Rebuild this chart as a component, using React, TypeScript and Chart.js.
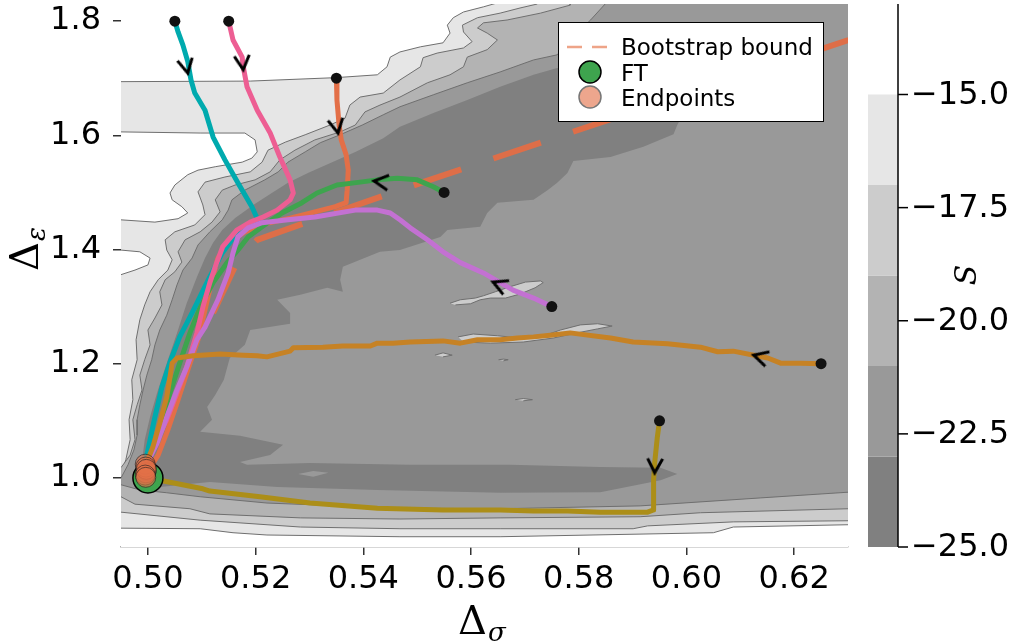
import React, { useEffect, useRef } from 'react';
import { Chart, registerables } from 'chart.js';

Chart.register(...registerables);

type Pt = [number, number];

// ---------- axes ----------
const X_MIN = 0.495;
const X_MAX = 0.63;
const Y_MIN = 0.879;
const Y_MAX = 1.83;
const X_TICKS = [0.5, 0.52, 0.54, 0.56, 0.58, 0.6, 0.62];
const Y_TICKS = [1.0, 1.2, 1.4, 1.6, 1.8];

// ---------- colorbar ----------
const CB_LEVELS = [-25, -23, -21, -19, -17, -15];
const CB_COLORS = ['#808080', '#999999', '#b3b3b3', '#cccccc', '#e6e6e6'];
const CB_TICKS = [-25, -22.5, -20, -17.5, -15];
const CB_MIN = -25;
const CB_MAX = -13;
const CB_TITLE = 'S';

// ---------- contour regions (S below level), data units ----------
const REGION_LE15: Pt[] = [[0.4911, 1.872], [0.4911, 0.839], [0.6342, 0.839], [0.6342, 1.872]];

const WHITE_TOP: Pt[] = [[0.4911, 1.872], [0.4911, 1.694], [0.495, 1.694], [0.519, 1.695], [0.5349, 1.701], [0.5426, 1.706], [0.5444, 1.72], [0.545, 1.737], [0.5468, 1.746], [0.5506, 1.755], [0.5548, 1.762], [0.5561, 1.779], [0.5556, 1.793], [0.5567, 1.806], [0.5586, 1.816], [0.5623, 1.825], [0.5649, 1.832], [0.5664, 1.872]];
const WHITE_TONGUE: Pt[] = [[0.4911, 1.606], [0.495, 1.606], [0.5097, 1.604], [0.518, 1.604], [0.5199, 1.592], [0.5203, 1.571], [0.5193, 1.56], [0.5175, 1.553], [0.5125, 1.545], [0.5093, 1.539], [0.5074, 1.531], [0.505, 1.513], [0.5041, 1.499], [0.5045, 1.487], [0.5063, 1.475], [0.5074, 1.464], [0.5056, 1.454], [0.5013, 1.448], [0.495, 1.452], [0.4911, 1.452]];
const WHITE_BLOB: Pt[] = [[0.4911, 1.399], [0.495, 1.399], [0.4985, 1.396], [0.5004, 1.385], [0.5, 1.373], [0.4976, 1.364], [0.495, 1.356], [0.4911, 1.356]];
const WHITE_BOTTOM: Pt[] = [[0.4911, 0.912], [0.495, 0.912], [0.5097, 0.911], [0.5158, 0.904], [0.5221, 0.9], [0.5468, 0.897], [0.5654, 0.897], [0.605, 0.904], [0.6087, 0.914], [0.6301, 0.918], [0.6342, 0.918], [0.6342, 0.839], [0.4911, 0.839]];

const REGION_LE17: Pt[] = [[0.5723, 1.872], [0.5723, 1.83], [0.5691, 1.823], [0.5654, 1.814], [0.5612, 1.806], [0.5584, 1.793], [0.5586, 1.781], [0.5602, 1.764], [0.5586, 1.753], [0.5537, 1.744], [0.5511, 1.736], [0.5506, 1.72], [0.5468, 1.697], [0.5437, 1.674], [0.5394, 1.667], [0.5375, 1.653], [0.5366, 1.63], [0.5338, 1.618], [0.5292, 1.601], [0.5255, 1.588], [0.5223, 1.574], [0.5212, 1.553], [0.519, 1.536], [0.5143, 1.527], [0.5106, 1.518], [0.5093, 1.501], [0.5102, 1.478], [0.5106, 1.461], [0.5087, 1.443], [0.505, 1.431], [0.5032, 1.417], [0.5035, 1.399], [0.5045, 1.382], [0.5037, 1.364], [0.5019, 1.347], [0.5004, 1.326], [0.4994, 1.303], [0.4985, 1.277], [0.4978, 1.242], [0.498, 1.207], [0.497, 1.172], [0.4972, 1.137], [0.4965, 1.102], [0.4967, 1.067], [0.4959, 1.032], [0.495, 1.005], [0.4911, 0.996], [0.4911, 0.94], [0.495, 0.94], [0.5097, 0.926], [0.5283, 0.914], [0.5468, 0.911], [0.5654, 0.911], [0.5901, 0.911], [0.5928, 0.916], [0.6087, 0.923], [0.6301, 0.925], [0.6342, 0.925], [0.6342, 1.872]];

const REGION_LE19: Pt[] = [[0.5784, 1.872], [0.5784, 1.828], [0.5729, 1.814], [0.5667, 1.802], [0.5623, 1.797], [0.5612, 1.788], [0.563, 1.779], [0.5649, 1.767], [0.563, 1.75], [0.5593, 1.737], [0.5586, 1.72], [0.5561, 1.706], [0.5519, 1.692], [0.5468, 1.667], [0.5431, 1.653], [0.5403, 1.641], [0.5385, 1.618], [0.5357, 1.606], [0.531, 1.592], [0.5273, 1.574], [0.5245, 1.557], [0.5227, 1.536], [0.5199, 1.522], [0.5162, 1.513], [0.5138, 1.504], [0.5125, 1.487], [0.5134, 1.466], [0.5119, 1.448], [0.5097, 1.431], [0.5069, 1.417], [0.5056, 1.396], [0.5063, 1.378], [0.505, 1.361], [0.5032, 1.347], [0.5022, 1.326], [0.5026, 1.303], [0.5013, 1.28], [0.5, 1.259], [0.5004, 1.233], [0.4994, 1.207], [0.4985, 1.18], [0.4989, 1.154], [0.498, 1.128], [0.4972, 1.102], [0.4976, 1.067], [0.4967, 1.04], [0.495, 1.018], [0.4911, 1.014], [0.4911, 0.967], [0.495, 0.967], [0.4976, 0.954], [0.5078, 0.946], [0.5115, 0.937], [0.5283, 0.93], [0.5468, 0.928], [0.5654, 0.93], [0.5914, 0.932], [0.6026, 0.939], [0.6301, 0.946], [0.6342, 0.946], [0.6342, 1.872]];

const REGION_LE21: Pt[] = [[0.5849, 1.872], [0.5849, 1.83], [0.5822, 1.802], [0.5784, 1.767], [0.576, 1.741], [0.5716, 1.732], [0.5654, 1.711], [0.5593, 1.692], [0.553, 1.671], [0.5468, 1.65], [0.5437, 1.636], [0.5398, 1.618], [0.5357, 1.601], [0.532, 1.587], [0.5292, 1.571], [0.526, 1.553], [0.5242, 1.536], [0.5217, 1.522], [0.518, 1.504], [0.5156, 1.487], [0.5149, 1.469], [0.5138, 1.452], [0.5115, 1.431], [0.5093, 1.408], [0.5082, 1.385], [0.5065, 1.364], [0.5054, 1.338], [0.5045, 1.312], [0.5035, 1.285], [0.5022, 1.259], [0.5013, 1.233], [0.5007, 1.207], [0.4998, 1.18], [0.4991, 1.154], [0.4985, 1.128], [0.498, 1.102], [0.498, 1.075], [0.4974, 1.049], [0.4963, 1.023], [0.495, 1.0], [0.4911, 0.996], [0.4911, 0.988], [0.495, 0.988], [0.4985, 0.979], [0.5035, 0.974], [0.5097, 0.967], [0.5221, 0.956], [0.5468, 0.947], [0.5654, 0.946], [0.5914, 0.951], [0.6138, 0.965], [0.6301, 0.975], [0.6342, 0.975], [0.6342, 1.872]];

const ISLANDS_LE21: Pt[][] = [
  [[0.5561, 1.306], [0.558, 1.312], [0.5608, 1.315], [0.5623, 1.319], [0.5645, 1.326], [0.5673, 1.335], [0.5701, 1.343], [0.5729, 1.345], [0.5734, 1.342], [0.5719, 1.333], [0.5691, 1.322], [0.5664, 1.315], [0.5636, 1.315], [0.5617, 1.312], [0.5599, 1.305], [0.5571, 1.303]],
  [[0.5576, 1.247], [0.5604, 1.252], [0.5649, 1.249], [0.5691, 1.245], [0.5729, 1.247], [0.5766, 1.259], [0.5803, 1.268], [0.5835, 1.27], [0.5862, 1.266], [0.5835, 1.261], [0.5797, 1.254], [0.5753, 1.245], [0.5697, 1.238], [0.5636, 1.236], [0.5586, 1.238]],
  [[0.5533, 1.215], [0.5548, 1.219], [0.5565, 1.215], [0.5548, 1.212]],
  [[0.5651, 1.207], [0.566, 1.208], [0.5669, 1.207], [0.566, 1.205]],
  [[0.5682, 1.137], [0.5697, 1.139], [0.5714, 1.137], [0.5697, 1.135]],
];

const REGION_LE23: Pt[] = [[0.4985, 0.982], [0.4987, 1.014], [0.4991, 1.044], [0.4994, 1.067], [0.5004, 1.107], [0.5017, 1.149], [0.5035, 1.201], [0.5054, 1.254], [0.5072, 1.306], [0.5091, 1.352], [0.5106, 1.385], [0.5121, 1.412], [0.5138, 1.434], [0.5162, 1.455], [0.5199, 1.48], [0.523, 1.499], [0.526, 1.517], [0.5297, 1.534], [0.5342, 1.553], [0.5385, 1.571], [0.5437, 1.595], [0.5468, 1.615], [0.553, 1.639], [0.5593, 1.662], [0.5654, 1.685], [0.5716, 1.706], [0.576, 1.718], [0.5822, 1.711], [0.5896, 1.688], [0.5961, 1.662], [0.5993, 1.636], [0.5983, 1.618], [0.5976, 1.602], [0.592, 1.58], [0.5859, 1.562], [0.579, 1.555], [0.5779, 1.534], [0.576, 1.517], [0.5742, 1.504], [0.5716, 1.487], [0.5649, 1.482], [0.563, 1.464], [0.5617, 1.44], [0.5556, 1.434], [0.5543, 1.422], [0.5468, 1.399], [0.5431, 1.396], [0.5362, 1.37], [0.5357, 1.347], [0.5362, 1.326], [0.5333, 1.333], [0.5283, 1.321], [0.524, 1.312], [0.5264, 1.289], [0.5264, 1.27], [0.519, 1.259], [0.518, 1.233], [0.5152, 1.21], [0.5141, 1.172], [0.5125, 1.145], [0.511, 1.124], [0.5119, 1.102], [0.5097, 1.081], [0.5171, 1.074], [0.5251, 1.058], [0.5227, 1.04], [0.5171, 1.028], [0.5184, 1.023], [0.5301, 1.026], [0.5487, 1.023], [0.5673, 1.023], [0.584, 1.019], [0.5952, 1.018], [0.5983, 1.007], [0.5952, 0.996], [0.584, 0.975], [0.5654, 0.974], [0.5426, 0.979], [0.524, 0.984], [0.5115, 0.993], [0.5022, 0.984], [0.4994, 0.979]];

const ISLANDS_LE23: Pt[][] = [[[0.5279, 1.007], [0.5307, 1.012], [0.5335, 1.009], [0.5307, 1.002]]];

// ---------- trajectories ----------
const TRAJ_ORANGERED: Pt[] = [[0.535, 1.7], [0.5351, 1.662], [0.5355, 1.618], [0.5359, 1.592], [0.5368, 1.566], [0.5372, 1.539], [0.537, 1.504], [0.5368, 1.482], [0.5348, 1.475], [0.531, 1.466], [0.5264, 1.455], [0.5217, 1.445], [0.518, 1.431], [0.5149, 1.412], [0.513, 1.385], [0.5119, 1.347], [0.5106, 1.294], [0.5093, 1.242], [0.5074, 1.189], [0.5056, 1.137], [0.5037, 1.084], [0.5019, 1.04], [0.5004, 1.018], [0.4997, 1.013]];
const TRAJ_GREEN: Pt[] = [[0.555, 1.5], [0.553, 1.51], [0.55, 1.522], [0.5463, 1.525], [0.5426, 1.522], [0.5394, 1.518], [0.5351, 1.513], [0.5314, 1.499], [0.5286, 1.482], [0.5249, 1.464], [0.5212, 1.44], [0.5186, 1.422], [0.5167, 1.399], [0.5147, 1.377], [0.5121, 1.342], [0.5097, 1.299], [0.5078, 1.254], [0.5059, 1.201], [0.5041, 1.149], [0.5022, 1.089], [0.5004, 1.044], [0.4996, 1.009]];
const TRAJ_TEAL: Pt[] = [[0.505, 1.8], [0.5056, 1.781], [0.5065, 1.758], [0.5074, 1.729], [0.508, 1.697], [0.5087, 1.674], [0.5106, 1.644], [0.5121, 1.597], [0.5143, 1.557], [0.5167, 1.517], [0.5193, 1.475], [0.5204, 1.452], [0.518, 1.434], [0.5156, 1.417], [0.5138, 1.394], [0.5112, 1.347], [0.5082, 1.289], [0.5059, 1.247], [0.5041, 1.203], [0.5026, 1.159], [0.5013, 1.107], [0.5004, 1.067], [0.4998, 1.04], [0.4995, 1.024]];
const TRAJ_PINK: Pt[] = [[0.515, 1.8], [0.5158, 1.767], [0.5175, 1.737], [0.5177, 1.72], [0.5184, 1.685], [0.5203, 1.644], [0.5227, 1.604], [0.5245, 1.562], [0.5264, 1.522], [0.527, 1.499], [0.5264, 1.487], [0.524, 1.469], [0.5214, 1.457], [0.519, 1.448], [0.5165, 1.434], [0.5139, 1.405], [0.5125, 1.37], [0.5115, 1.342], [0.5102, 1.299], [0.5091, 1.254], [0.5072, 1.194], [0.5054, 1.149], [0.5035, 1.102], [0.5017, 1.067], [0.5004, 1.037], [0.4996, 1.019]];
const TRAJ_PURPLE: Pt[] = [[0.575, 1.3], [0.5716, 1.315], [0.5678, 1.329], [0.5654, 1.342], [0.5623, 1.359], [0.558, 1.377], [0.5548, 1.396], [0.5519, 1.417], [0.5487, 1.438], [0.5468, 1.452], [0.545, 1.464], [0.5426, 1.469], [0.5385, 1.469], [0.531, 1.457], [0.526, 1.452], [0.5212, 1.447], [0.5186, 1.438], [0.5167, 1.422], [0.5158, 1.394], [0.5149, 1.359], [0.513, 1.312], [0.5106, 1.264], [0.5091, 1.242], [0.5072, 1.194], [0.5054, 1.154], [0.5035, 1.107], [0.5017, 1.061], [0.5004, 1.037], [0.4997, 1.015]];
const TRAJ_ORANGE: Pt[] = [[0.625, 1.2], [0.6212, 1.201], [0.6175, 1.201], [0.6151, 1.21], [0.6087, 1.222], [0.6058, 1.221], [0.6026, 1.229], [0.5965, 1.235], [0.5901, 1.238], [0.5859, 1.245], [0.5784, 1.254], [0.5747, 1.25], [0.5716, 1.247], [0.5686, 1.245], [0.5654, 1.242], [0.5612, 1.242], [0.558, 1.236], [0.5548, 1.24], [0.5487, 1.238], [0.5455, 1.236], [0.5426, 1.236], [0.5413, 1.231], [0.5362, 1.231], [0.5325, 1.229], [0.527, 1.228], [0.5264, 1.222], [0.5221, 1.212], [0.5203, 1.214], [0.5177, 1.215], [0.5134, 1.217], [0.5084, 1.214], [0.5054, 1.21], [0.5045, 1.201], [0.5041, 1.177], [0.5035, 1.142], [0.5022, 1.096], [0.5009, 1.054], [0.5, 1.032], [0.4995, 1.005]];
const TRAJ_OLIVE: Pt[] = [[0.595, 1.1], [0.5946, 1.072], [0.5941, 1.026], [0.5939, 0.996], [0.5939, 0.944], [0.5928, 0.94], [0.584, 0.94], [0.5779, 0.942], [0.5716, 0.942], [0.5654, 0.944], [0.5548, 0.944], [0.5426, 0.947], [0.5301, 0.956], [0.5208, 0.967], [0.5115, 0.977], [0.5102, 0.981], [0.5022, 0.996], [0.4996, 1.001]];

const TRAJECTORIES: Pt[][] = [TRAJ_ORANGERED, TRAJ_GREEN, TRAJ_TEAL, TRAJ_PINK, TRAJ_PURPLE, TRAJ_ORANGE, TRAJ_OLIVE];
const TRAJ_COLORS = ['#E36F47', '#3EA44E', '#00AAAE', '#ED5E93', '#C371D2', '#C68225', '#AC8E18'];

const BOOTSTRAP_BOUND: Pt[] = [[0.5121, 1.289], [0.5165, 1.377], [0.5203, 1.417], [0.5296, 1.448], [0.5511, 1.518], [0.576, 1.597], [0.6301, 1.767]];

const ARROW_POS: Pt[] = [[0.5074, 1.709], [0.5177, 1.715], [0.5353, 1.604], [0.542, 1.52], [0.5641, 1.343], [0.6125, 1.215], [0.5941, 1.009]];
const ARROW_ROT = [-12, -6, -11, 97, 113, 106, 2];

const FT_POINT: Pt[] = [[0.5, 1.0]];

const LEGEND_LABELS = ['Bootstrap bound', 'FT', 'Endpoints'];

const toXY = (a: Pt[]) => a.map(([x, y]) => ({ x, y }));

function makeChevron(): HTMLCanvasElement {
  const c = document.createElement('canvas');
  c.width = 44;
  c.height = 44;
  const g = c.getContext('2d')!;
  g.strokeStyle = '#000';
  g.lineWidth = 3;
  g.lineJoin = 'miter';
  g.lineCap = 'butt';
  const L = 16;
  const a = (28 * Math.PI) / 180;
  g.beginPath();
  g.moveTo(22 - L * Math.sin(a), 22 - L * Math.cos(a));
  g.lineTo(22, 22);
  g.lineTo(22 + L * Math.sin(a), 22 - L * Math.cos(a));
  g.stroke();
  return c;
}

function polygon(pts: Pt[], fillColor: string, stroke: boolean) {
  return {
    type: 'line',
    data: toXY(pts),
    fill: 'shape',
    backgroundColor: fillColor,
    borderColor: stroke ? '#6f6f6f' : 'rgba(0,0,0,0)',
    borderWidth: stroke ? 1 : 0,
    pointRadius: 0,
    pointHoverRadius: 0,
    tension: 0,
    clip: 0,
  };
}

const overlayPlugin = {
  id: 'overlay',
  afterDraw(chart: any) {
    const ctx = chart.ctx as CanvasRenderingContext2D;
    const cb = chart.scales.cb;
    const area = chart.chartArea;
    ctx.save();

    // colorbar
    const cbLeft = 868;
    const cbRight = 898;
    for (let i = 0; i < CB_COLORS.length; i++) {
      const yLow = cb.getPixelForValue(CB_LEVELS[i]);
      const yHigh = cb.getPixelForValue(CB_LEVELS[i + 1]);
      ctx.fillStyle = CB_COLORS[i];
      ctx.fillRect(cbLeft, yHigh, cbRight - cbLeft, yLow - yHigh);
    }
    ctx.strokeStyle = '#000';
    ctx.lineWidth = 1.5;
    ctx.beginPath();
    ctx.moveTo(cbRight, area.top);
    ctx.lineTo(cbRight, area.bottom);
    ctx.stroke();
    ctx.font = '32px "DejaVu Sans"';
    ctx.fillStyle = '#000';
    ctx.textAlign = 'left';
    ctx.textBaseline = 'middle';
    for (const v of CB_TICKS) {
      const y = cb.getPixelForValue(v);
      ctx.beginPath();
      ctx.moveTo(cbRight, y);
      ctx.lineTo(cbRight + 10, y);
      ctx.stroke();
      ctx.fillText((v < 0 ? '\u2212' : '') + Math.abs(v).toFixed(1), cbRight + 13, y + 1);
    }
    ctx.save();
    ctx.translate(968, 275);
    ctx.rotate(-Math.PI / 2);
    ctx.font = 'italic 30px "DejaVu Serif"';
    ctx.textAlign = 'center';
    ctx.textBaseline = 'middle';
    ctx.fillText(CB_TITLE, 0, 0);
    ctx.restore();

    // axis titles
    ctx.textAlign = 'left';
    ctx.textBaseline = 'alphabetic';
    ctx.font = '40px "DejaVu Serif"';
    const dw = ctx.measureText('\u0394').width;
    ctx.fillText('\u0394', 458, 634);
    ctx.font = 'italic 26px "DejaVu Serif"';
    ctx.fillText('\u03c3', 458 + dw + 1, 641);

    ctx.save();
    ctx.translate(38, 271);
    ctx.rotate(-Math.PI / 2);
    ctx.font = '40px "DejaVu Serif"';
    ctx.fillText('\u0394', 0, 0);
    ctx.font = 'italic 26px "DejaVu Serif"';
    ctx.fillText('\u03b5', dw + 1, 7);
    ctx.restore();

    // legend
    const lx = 558;
    const ly = 22;
    ctx.fillStyle = '#fff';
    ctx.fillRect(lx, ly, 265, 99);
    ctx.strokeStyle = '#000';
    ctx.lineWidth = 1;
    ctx.strokeRect(lx + 0.5, ly + 0.5, 265, 99);

    ctx.strokeStyle = '#eea488';
    ctx.lineWidth = 2.5;
    ctx.setLineDash([15, 10]);
    ctx.beginPath();
    ctx.moveTo(lx + 9, ly + 25);
    ctx.lineTo(lx + 49, ly + 25);
    ctx.stroke();
    ctx.setLineDash([]);

    ctx.beginPath();
    ctx.arc(lx + 32, ly + 50, 11, 0, Math.PI * 2);
    ctx.fillStyle = '#3EA44E';
    ctx.fill();
    ctx.strokeStyle = '#000';
    ctx.lineWidth = 1.5;
    ctx.stroke();

    ctx.beginPath();
    ctx.arc(lx + 32, ly + 75, 11, 0, Math.PI * 2);
    ctx.fillStyle = '#eda68d';
    ctx.fill();
    ctx.strokeStyle = '#777';
    ctx.lineWidth = 1.5;
    ctx.stroke();

    ctx.fillStyle = '#000';
    ctx.font = '23px "DejaVu Sans"';
    ctx.textBaseline = 'alphabetic';
    LEGEND_LABELS.forEach((t, i) => {
      ctx.fillText(t, lx + 63, ly + 33 + i * 25.5);
    });

    ctx.restore();
  },
};

export default function App() {
  const ref = useRef<HTMLCanvasElement>(null);

  useEffect(() => {
    const canvas = ref.current;
    if (!canvas) return;
    Chart.defaults.font.family = '"DejaVu Sans"';
    const chevron = makeChevron();

    const layers: any[] = [];
    layers.push(polygon(REGION_LE15, '#e6e6e6', false));
    layers.push(polygon(WHITE_TOP, '#ffffff', true));
    layers.push(polygon(WHITE_TONGUE, '#ffffff', true));
    layers.push(polygon(WHITE_BLOB, '#ffffff', true));
    layers.push(polygon(WHITE_BOTTOM, '#ffffff', true));
    layers.push(polygon(REGION_LE17, '#cccccc', true));
    layers.push(polygon(REGION_LE19, '#b3b3b3', true));
    layers.push(polygon(REGION_LE21, '#999999', true));
    ISLANDS_LE21.forEach((p) => layers.push(polygon(p, '#cccccc', true)));
    layers.push(polygon(REGION_LE23, '#808080', false));
    ISLANDS_LE23.forEach((p) => layers.push(polygon(p, '#999999', false)));

    layers.push({
      type: 'line',
      data: toXY(BOOTSTRAP_BOUND),
      borderColor: '#DE6E48',
      borderWidth: 6,
      borderDash: [50, 34],
      borderCapStyle: 'butt',
      pointRadius: 0,
      fill: false,
      tension: 0,
      clip: 0,
    });

    TRAJECTORIES.forEach((t, i) => {
      layers.push({
        type: 'line',
        data: toXY(t),
        borderColor: TRAJ_COLORS[i],
        borderWidth: 5,
        borderJoinStyle: 'round',
        borderCapStyle: 'round',
        pointRadius: 0,
        fill: false,
        tension: 0,
        clip: 0,
      });
    });

    layers.push({
      type: 'scatter',
      data: TRAJECTORIES.map((t) => ({ x: t[0][0], y: t[0][1] })),
      pointRadius: 5.5,
      backgroundColor: '#111111',
      borderWidth: 0,
      clip: 0,
    });

    layers.push({
      type: 'scatter',
      data: toXY(ARROW_POS),
      pointStyle: chevron,
      pointRotation: ARROW_ROT,
      pointRadius: 10,
      clip: 0,
    });

    layers.push({
      type: 'scatter',
      data: toXY(FT_POINT),
      pointRadius: 15,
      backgroundColor: '#3EA44E',
      borderColor: '#000000',
      borderWidth: 1.5,
      clip: 0,
    });

    layers.push({
      type: 'scatter',
      data: TRAJECTORIES.map((t) => ({ x: t[t.length - 1][0], y: t[t.length - 1][1] })),
      pointRadius: 10,
      backgroundColor: 'rgba(227,111,71,0.6)',
      borderColor: 'rgba(30,30,30,0.6)',
      borderWidth: 1,
      clip: 0,
    });

    layers.forEach((d, i) => {
      d.order = layers.length - i;
    });

    const chart = new Chart(canvas, {
      type: 'line',
      data: { datasets: layers },
      options: {
        animation: false,
        responsive: false,
        devicePixelRatio: 1,
        events: [],
        layout: { autoPadding: false, padding: { top: 4, right: 168, bottom: 0, left: 0 } },
        plugins: { legend: { display: false }, tooltip: { enabled: false } },
        scales: {
          x: {
            type: 'linear',
            min: X_MIN,
            max: X_MAX,
            afterBuildTicks: (s: any) => {
              s.ticks = X_TICKS.map((v) => ({ value: v }));
            },
            afterFit: (s: any) => {
              s.height = 96;
              s.paddingLeft = 0;
              s.paddingRight = 0;
            },
            ticks: {
              callback: (v: any) => Number(v).toFixed(2),
              font: { family: '"DejaVu Sans"', size: 32 },
              color: '#000',
              padding: 5,
              maxRotation: 0,
              autoSkip: false,
            },
            grid: { drawOnChartArea: false, color: '#333', lineWidth: 1.5, tickLength: 8 },
            border: { display: true, color: '#b0b0b0', width: 1.5 },
          },
          y: {
            type: 'linear',
            min: Y_MIN,
            max: Y_MAX,
            afterBuildTicks: (s: any) => {
              s.ticks = Y_TICKS.map((v) => ({ value: v }));
            },
            afterFit: (s: any) => {
              s.width = 121;
              s.paddingTop = 0;
              s.paddingBottom = 0;
            },
            ticks: {
              callback: (v: any) => Number(v).toFixed(1),
              font: { family: '"DejaVu Sans"', size: 32 },
              color: '#000',
              padding: 12,
              autoSkip: false,
            },
            grid: { drawOnChartArea: false, color: '#333', lineWidth: 1.5, tickLength: 8 },
            border: { display: false },
          },
          cb: {
            type: 'linear',
            display: false,
            position: 'right',
            min: CB_MIN,
            max: CB_MAX,
          },
        },
      } as any,
      plugins: [overlayPlugin],
    } as any);

    return () => chart.destroy();
  }, []);

  return (
    <div style={{ position: 'absolute', left: 0, top: 0, width: 1016, height: 643, background: '#fff' }}>
      <canvas ref={ref} width={1016} height={643} style={{ display: 'block', width: 1016, height: 643 }} />
    </div>
  );
}
